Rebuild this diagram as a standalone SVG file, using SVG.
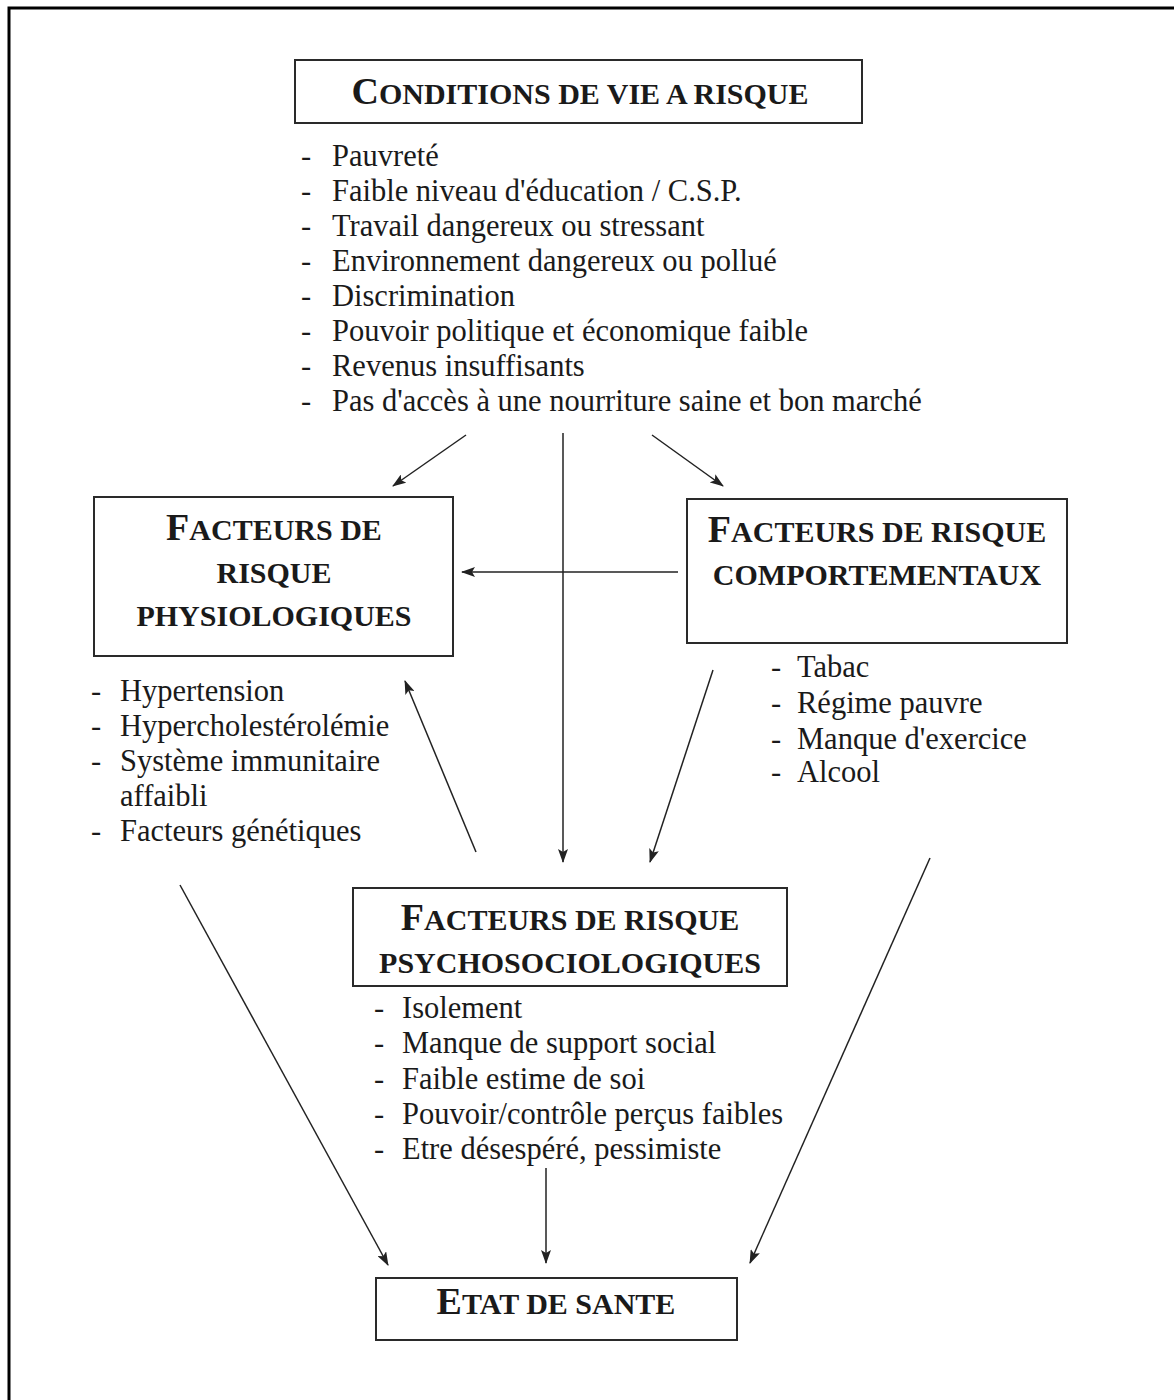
<svg xmlns="http://www.w3.org/2000/svg" width="1174" height="1400" viewBox="0 0 1174 1400">
  <style>
    .frame { fill: none; stroke: #000; stroke-width: 3; }
    .box { fill: #fff; stroke: #2a2a2a; stroke-width: 2; }
    .title { font-family: "Liberation Serif", "Times New Roman", serif; font-weight: bold; fill: #1a1a1a; text-anchor: middle; }
    .cap { font-size: 38px; }
    .sc { font-size: 30px; }
    .item { font-family: "Liberation Serif", "Times New Roman", serif; font-size: 30.5px; fill: #1a1a1a; }
    .link { fill: none; stroke: #222; stroke-width: 1.5; }
  </style>
  <defs>
    <marker id="arrow" viewBox="0 0 14 10" refX="13" refY="5" markerWidth="14" markerHeight="10" markerUnits="userSpaceOnUse" orient="auto">
      <path d="M0,0 L14,5 L0,10 L3,5 z" fill="#222"/>
    </marker>
  </defs>

  <rect width="1174" height="1400" fill="#fff"/>
  <!-- page frame -->
  <path class="frame" d="M9,1402 V8 H1176"/>

  <!-- connectors -->
  <g id="connectors">
    <line class="link" x1="466" y1="435" x2="393" y2="486" marker-end="url(#arrow)"/>
    <line class="link" x1="563" y1="433" x2="563" y2="862" marker-end="url(#arrow)"/>
    <line class="link" x1="652" y1="435" x2="723" y2="486" marker-end="url(#arrow)"/>
    <line class="link" x1="678" y1="572" x2="462" y2="572" marker-end="url(#arrow)"/>
    <line class="link" x1="476" y1="852" x2="405" y2="681" marker-end="url(#arrow)"/>
    <line class="link" x1="713" y1="670" x2="650" y2="862" marker-end="url(#arrow)"/>
    <line class="link" x1="180" y1="885" x2="388" y2="1265" marker-end="url(#arrow)"/>
    <line class="link" x1="930" y1="858" x2="750" y2="1263" marker-end="url(#arrow)"/>
    <line class="link" x1="546" y1="1168" x2="546" y2="1263" marker-end="url(#arrow)"/>
  </g>

  <!-- living conditions -->
  <g id="conditions">
    <rect class="box" x="295" y="60" width="567" height="63"/>
    <text class="title" x="580" y="104"><tspan class="cap">C</tspan><tspan class="sc">ONDITIONS DE VIE A RISQUE</tspan></text>
    <g class="item">
      <text x="301" y="166">-</text><text x="332" y="166">Pauvreté</text>
      <text x="301" y="201">-</text><text x="332" y="201">Faible niveau d'éducation / C.S.P.</text>
      <text x="301" y="236">-</text><text x="332" y="236">Travail dangereux ou stressant</text>
      <text x="301" y="271">-</text><text x="332" y="271">Environnement dangereux ou pollué</text>
      <text x="301" y="306">-</text><text x="332" y="306">Discrimination</text>
      <text x="301" y="341">-</text><text x="332" y="341">Pouvoir politique et économique faible</text>
      <text x="301" y="376">-</text><text x="332" y="376">Revenus insuffisants</text>
      <text x="301" y="411">-</text><text x="332" y="411">Pas d'accès à une nourriture saine et bon marché</text>
    </g>
  </g>

  <!-- physiological factors -->
  <g id="physiologiques">
    <rect class="box" x="94" y="497" width="359" height="159"/>
    <text class="title" x="274" y="540"><tspan class="cap">F</tspan><tspan class="sc">ACTEURS DE</tspan></text>
    <text class="title" x="274" y="583"><tspan class="sc">RISQUE</tspan></text>
    <text class="title" x="274" y="626"><tspan class="sc">PHYSIOLOGIQUES</tspan></text>
    <g class="item">
      <text x="91" y="701">-</text><text x="120" y="701">Hypertension</text>
      <text x="91" y="736">-</text><text x="120" y="736">Hypercholestérolémie</text>
      <text x="91" y="771">-</text><text x="120" y="771">Système immunitaire</text>
      <text x="120" y="806">affaibli</text>
      <text x="91" y="841">-</text><text x="120" y="841">Facteurs génétiques</text>
    </g>
  </g>

  <!-- behavioural factors -->
  <g id="comportementaux">
    <rect class="box" x="687" y="499" width="380" height="144"/>
    <text class="title" x="877" y="542"><tspan class="cap">F</tspan><tspan class="sc">ACTEURS DE RISQUE</tspan></text>
    <text class="title" x="877" y="585"><tspan class="sc">COMPORTEMENTAUX</tspan></text>
    <g class="item">
      <text x="771" y="677">-</text><text x="797" y="677">Tabac</text>
      <text x="771" y="713">-</text><text x="797" y="713">Régime pauvre</text>
      <text x="771" y="749">-</text><text x="797" y="749">Manque d'exercice</text>
      <text x="771" y="782">-</text><text x="797" y="782">Alcool</text>
    </g>
  </g>

  <!-- psychosocial factors -->
  <g id="psychosociologiques">
    <rect class="box" x="353" y="888" width="434" height="98"/>
    <text class="title" x="570" y="930"><tspan class="cap">F</tspan><tspan class="sc">ACTEURS DE RISQUE</tspan></text>
    <text class="title" x="570" y="973"><tspan class="sc">PSYCHOSOCIOLOGIQUES</tspan></text>
    <g class="item">
      <text x="374" y="1018">-</text><text x="402" y="1018">Isolement</text>
      <text x="374" y="1053">-</text><text x="402" y="1053">Manque de support social</text>
      <text x="374" y="1089">-</text><text x="402" y="1089">Faible estime de soi</text>
      <text x="374" y="1124">-</text><text x="402" y="1124">Pouvoir/contrôle perçus faibles</text>
      <text x="374" y="1159">-</text><text x="402" y="1159">Etre désespéré, pessimiste</text>
    </g>
  </g>

  <!-- health status -->
  <g id="sante">
    <rect class="box" x="376" y="1278" width="361" height="62"/>
    <text class="title" x="556" y="1314"><tspan class="cap">E</tspan><tspan class="sc">TAT DE SANTE</tspan></text>
  </g>
</svg>
